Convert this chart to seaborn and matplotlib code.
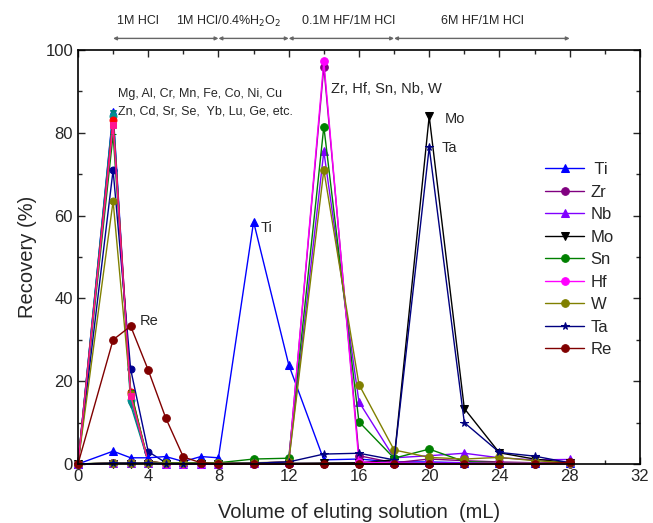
import numpy as np
import pandas as pd
import matplotlib
matplotlib.use("Agg")
import matplotlib.pyplot as plt
from matplotlib.ticker import MultipleLocator
import seaborn as sns

# eluting volume (mL) where fractions were collected
volume = [0, 2, 3, 4, 5, 6, 7, 8, 10, 12, 14, 16, 18, 20, 22, 24, 26, 28]

# recovery (%) of the labelled elements
ti = [0, 3.1, 1.5, 1.5, 1.8, 0.6, 1.8, 1.5, 58.5, 24, 1.0, 1.2, 0.5, 0.5, 0.3, 0.3, 0.3, 0.3]
zr = [0, 0.2, 0.2, 0.2, 0.1, 0.1, 0.1, 0.1, 0.2, 0.5, 96, 2.0, 0.3, 1.2, 0.8, 0.5, 0.3, 0.3]
nb = [0, 0.2, 0.2, 0.2, 0.1, 0.1, 0.1, 0.1, 0.2, 0.5, 75.5, 15, 1.5, 2.0, 2.6, 1.5, 1.0, 1.1]
mo = [0, 0.1, 0.1, 0.1, 0.1, 0.1, 0.1, 0.1, 0.1, 0.1, 0.2, 0.3, 1.0, 84, 13.4, 2.7, 1.2, 0.3]
sn = [0, 0.3, 0.3, 0.3, 0.3, 0.3, 0.3, 0.3, 1.2, 1.4, 81.5, 10.2, 1.4, 3.6, 0.6, 0.3, 0.3, 0.2]
hf = [0, 0.2, 0.2, 0.2, 0.1, 0.1, 0.1, 0.1, 0.1, 0.3, 97.3, 0.5, 0.2, 0.2, 0.2, 0.2, 0.2, 0.2]
w = [0, 0.3, 0.3, 0.3, 0.2, 0.2, 0.2, 0.2, 0.3, 0.5, 71, 19.2, 3.4, 1.6, 1.2, 1.6, 0.8, 0.3]
ta = [0, 0.2, 0.2, 0.2, 0.1, 0.1, 0.1, 0.1, 0.2, 0.5, 2.4, 2.6, 1.0, 76.5, 10, 2.8, 1.9, 0.3]
re = [0, 30, 33.3, 22.7, 11.1, 1.7, 0.3, 0, 0, 0, 0, 0, 0, 0, 0, 0, 0, 0.4]

# matrix elements (Mg, Al, Cr, ...) eluting in the first 1M HCl fraction
mg = [0, 85.3, 16.0, 0.5, 0.2, 0.1, 0.1, 0.1, 0.1, 0.1, 0.1, 0.1, 0.1, 0.1, 0.1, 0.1, 0.1, 0.1]
al = [0, 84.8, 14.3, 0.5, 0.2, 0.1, 0.1, 0.1, 0.1, 0.1, 0.1, 0.1, 0.1, 0.1, 0.1, 0.1, 0.1, 0.1]
cr = [0, 84.1, 15.5, 0.5, 0.2, 0.1, 0.1, 0.1, 0.1, 0.1, 0.1, 0.1, 0.1, 0.1, 0.1, 0.1, 0.1, 0.1]
mn = [0, 83.0, 17.5, 0.6, 0.2, 0.1, 0.1, 0.1, 0.1, 0.1, 0.1, 0.1, 0.1, 0.1, 0.1, 0.1, 0.1, 0.1]
fe = [0, 82.0, 16.5, 0.4, 0.2, 0.1, 0.1, 0.1, 0.1, 0.1, 0.1, 0.1, 0.1, 0.1, 0.1, 0.1, 0.1, 0.1]
co = [0, 79.6, 17.8, 0.5, 0.2, 0.1, 0.1, 0.1, 0.1, 0.1, 0.1, 0.1, 0.1, 0.1, 0.1, 0.1, 0.1, 0.1]
ni = [0, 71.0, 22.9, 3.0, 0.3, 0.1, 0.1, 0.1, 0.1, 0.1, 0.1, 0.1, 0.1, 0.1, 0.1, 0.1, 0.1, 0.1]
cu = [0, 63.5, 17.0, 0.5, 0.2, 0.1, 0.1, 0.1, 0.1, 0.1, 0.1, 0.1, 0.1, 0.1, 0.1, 0.1, 0.1, 0.1]

# eluent steps along the top
eluents = ["1M HCl", "1M HCl/0.4%H$_2$O$_2$", "0.1M HF/1M HCl", "6M HF/1M HCl"]
eluent_edges = [2, 8, 12, 18, 28]
eluent_text_x = [3.4, 8.6, 15.4, 23.0]

sns.set_style("ticks")
plt.rcParams["font.family"] = ["Liberation Sans", "DejaVu Sans"]

fig = plt.figure(figsize=(6.53, 5.23), dpi=100)
ax = fig.add_axes([0.1194, 0.1128, 0.8606, 0.7916])

others = [
    (mg, "#0000ff", "^"),
    (al, "#008080", "v"),
    (cr, "#009090", "o"),
    (mn, "#ff0000", "o"),
    (co, "#008000", "_"),
    (ni, "#000090", "o"),
    (cu, "#808000", "o"),
    (fe, "#ff1493", "s"),
]
for vals, col, mk in others:
    sns.lineplot(x=volume, y=vals, color=col, marker=mk, markersize=5,
                 markeredgecolor=col, linewidth=1, ax=ax, legend=False,
                 clip_on=False)

series = [
    (" Ti", ti, "#0000ff", "^"),
    ("Zr", zr, "#800080", "o"),
    ("Nb", nb, "#8000ff", "^"),
    ("Mo", mo, "#000000", "v"),
    ("Sn", sn, "#008000", "o"),
    ("Hf", hf, "#ff00ff", "o"),
    ("W", w, "#808000", "o"),
    ("Ta", ta, "#000080", "*"),
    ("Re", re, "#800000", "o"),
]
for name, vals, col, mk in series:
    sns.lineplot(x=volume, y=vals, color=col, marker=mk, markersize=5.5,
                 markeredgecolor=col, linewidth=1, label=name, ax=ax,
                 clip_on=False)

ax.set_xlim(0, 32)
ax.set_ylim(0, 100)
ax.xaxis.set_major_locator(MultipleLocator(4))
ax.xaxis.set_minor_locator(MultipleLocator(2))
ax.yaxis.set_major_locator(MultipleLocator(20))
ax.yaxis.set_minor_locator(MultipleLocator(10))
ax.tick_params(which="both", direction="in", top=True, right=True, labelsize=12)
ax.tick_params(which="major", length=5, width=1)
ax.tick_params(which="minor", length=3, width=1)
for sp in ax.spines.values():
    sp.set_linewidth(1.2)
    sp.set_color("black")

ax.set_xlabel("Volume of eluting solution  (mL)", fontsize=14.5, labelpad=14)
ax.set_ylabel("Recovery (%)", fontsize=14.5, labelpad=6)

# eluent arrows and labels above the axes
for i, lab in enumerate(eluents):
    ax.annotate("", xy=(eluent_edges[i], 102.8), xytext=(eluent_edges[i + 1], 102.8),
                xycoords="data", annotation_clip=False,
                arrowprops=dict(arrowstyle="<|-|>", color="#666666", lw=1,
                                mutation_scale=5, shrinkA=0, shrinkB=0))
    ax.text(eluent_text_x[i], 107.0, lab, ha="center", va="center", fontsize=9,
            clip_on=False)

ax.text(2.3, 89.4, "Mg, Al, Cr, Mn, Fe, Co, Ni, Cu", fontsize=9, va="center")
ax.text(2.3, 85.2, "Zn, Cd, Sr, Se,  Yb, Lu, Ge, etc.", fontsize=9, va="center")
ax.text(14.4, 90.6, "Zr, Hf, Sn, Nb, W", fontsize=10.5, va="center")
ax.text(20.9, 83.3, "Mo", fontsize=10.5, va="center")
ax.text(20.7, 76.3, "Ta", fontsize=10.5, va="center")
ax.text(10.4, 56.9, "Ti", fontsize=10.5, va="center")
ax.text(3.5, 34.6, "Re", fontsize=10.5, va="center")

ax.legend(loc="upper left", bbox_to_anchor=(0.82, 0.745), frameon=False,
          fontsize=12, handlelength=2.3, labelspacing=0.45, handletextpad=0.4,
          borderaxespad=0)

fig.savefig("out.png", dpi=100)
